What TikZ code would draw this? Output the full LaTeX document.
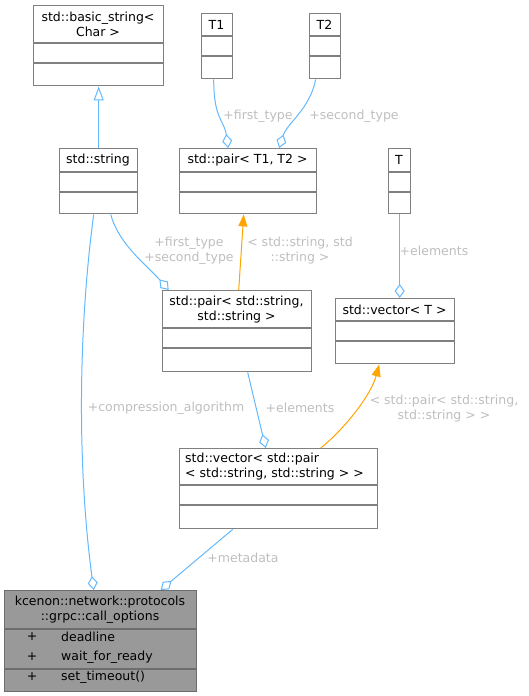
\documentclass[tikz,border=0pt]{standalone}
\usepackage{fontspec}
\setmainfont{DejaVu Sans}
\usetikzlibrary{arrows.meta}
\definecolor{boxgray}{HTML}{808080}
\definecolor{edgeblue}{HTML}{63B8FF}
\definecolor{edgeorange}{HTML}{FFA500}
\definecolor{labelgray}{HTML}{BEBEBE}
\definecolor{mainfill}{HTML}{999999}
\begin{document}
\begin{tikzpicture}[x=1pt,y=-1pt]
        \tikzstyle{cls}=[draw=boxgray,fill=white,line width=1.4pt,inner sep=0pt,anchor=north west]
        \tikzstyle{mainc}=[cls,fill=mainfill,draw=boxgray!85!black]
        \tikzstyle{ttl}=[inner sep=0pt,align=center,font=\fontsize{12.5}{15}\selectfont]
        \tikzstyle{lbl}=[ttl,text=labelgray]
        \tikzstyle{sepline}=[draw=boxgray,line width=1.4pt]
        \tikzstyle{agg}=[draw=edgeblue,line width=1pt,-{Diamond[open,length=14pt,width=10pt]}]
        \tikzstyle{inherit}=[draw=edgeblue,line width=1pt,-{Triangle[open,length=14pt,width=10pt]}]
        \tikzstyle{tmpl}=[draw=edgeorange,line width=1pt,-{Triangle[length=12pt,width=9pt]}]
    \useasboundingbox (0,0) rectangle (529,696);
    % classes
    \node[cls,minimum width=130pt,minimum height=80pt] (basicstr) at (33,5) {};
    \draw[sepline] (basicstr.north west) ++(0,38) -- ++(130,0) ++(-130,20) -- ++(130,0);
    \node[ttl] (basicstrT) at (98,24.5) {std::basic\_string<\\Char >};
    \node[cls,minimum width=31pt,minimum height=65pt] (tone) at (201,13) {};
    \draw[sepline] (tone.north west) ++(0,23) -- ++(31,0) ++(-31,20) -- ++(31,0);
    \node[ttl] (toneT) at (216.5,24.5) {T1};
    \node[cls,minimum width=31pt,minimum height=65pt] (ttwo) at (309,13) {};
    \draw[sepline] (ttwo.north west) ++(0,23) -- ++(31,0) ++(-31,20) -- ++(31,0);
    \node[ttl] (ttwoT) at (324.5,24.5) {T2};
    \node[cls,minimum width=78pt,minimum height=65pt] (str) at (59,148) {};
    \draw[sepline] (str.north west) ++(0,24) -- ++(78,0) ++(-78,20) -- ++(78,0);
    \node[ttl] (strT) at (98,160) {std::string};
    \node[cls,minimum width=137pt,minimum height=65pt] (pairT) at (179,148) {};
    \draw[sepline] (pairT.north west) ++(0,24) -- ++(137,0) ++(-137,20) -- ++(137,0);
    \node[ttl] (pairTT) at (247.5,160) {std::pair< T1, T2 >};
    \node[cls,minimum width=22pt,minimum height=65pt] (tee) at (388,148) {};
    \draw[sepline] (tee.north west) ++(0,24) -- ++(22,0) ++(-22,20) -- ++(22,0);
    \node[ttl] (teeT) at (399,160) {T};
    \node[cls,minimum width=149pt,minimum height=81pt] (pairSS) at (162,290) {};
    \draw[sepline] (pairSS.north west) ++(0,38) -- ++(149,0) ++(-149,20) -- ++(149,0);
    \node[ttl] (pairSST) at (236.5,309.5) {std::pair< std::string,\\std::string >};
    \node[cls,minimum width=119pt,minimum height=65pt] (vecT) at (335,298) {};
    \draw[sepline] (vecT.north west) ++(0,23) -- ++(119,0) ++(-119,20) -- ++(119,0);
    \node[ttl] (vecTT) at (394.5,310) {std::vector< T >};
    \node[cls,minimum width=198pt,minimum height=80pt] (vecP) at (179,448) {};
    \draw[sepline] (vecP.north west) ++(0,37) -- ++(198,0) ++(-198,20) -- ++(198,0);
    \node[ttl,align=left,anchor=west] (vecPT) at (185,466.5) {std::vector< std::pair\\< std::string, std::string > >};
    \node[mainc,minimum width=192pt,minimum height=101pt] (call) at (4,590) {};
    \draw[sepline,draw=boxgray!85!black] (call.north west) ++(0,39) -- ++(192,0) ++(-192,40) -- ++(192,0);
    \node[ttl] (callT) at (100,610) {kcenon::network::protocols\\::grpc::call\_options};
    \node[ttl] (attrA) at (32,637) {+};
    \node[ttl,anchor=west] (attrAn) at (61,637) {deadline};
    \node[ttl] (attrB) at (32,657) {+};
    \node[ttl,anchor=west] (attrBn) at (61,657) {wait\_for\_ready};
    \node[ttl] (methA) at (32,677) {+};
    \node[ttl,anchor=west] (methAn) at (61,677) {set\_timeout()};
    % relations
    \draw[inherit] (str.north) -- (basicstr.south);
    \draw[agg] ([xshift=-3.5pt]tone.south) .. controls +(0,40) and +(-4,-28) .. ([xshift=-20pt]pairT.north);
    \draw[agg] ([xshift=-9.5pt]ttwo.south) .. controls +(-6,30) and +(8,-25) .. ([xshift=31pt]pairT.north);
    \draw[tmpl] ([xshift=1.5pt]pairSS.north) -- ([xshift=-4.5pt]pairT.south);
    \draw[agg] ([xshift=12pt]str.south) .. controls +(8,30) and +(-22,-25) .. ([xshift=-68.5pt]pairSS.north);
    \draw[agg] ([xshift=-5pt]str.south) .. controls +(-16,120) and +(-16,-120) .. ([xshift=-7pt]call.north);
    \draw[agg] (tee.south) -- ([xshift=4.5pt]vecT.north);
    \draw[agg] ([xshift=10.5pt]pairSS.south) -- ([xshift=-13pt]vecP.north);
    \draw[tmpl] ([xshift=42pt]vecP.north) .. controls +(25,-20) and +(-8,30) .. ([xshift=-16pt]vecT.south);
    \draw[agg] ([xshift=-46pt]vecP.south) -- ([xshift=60pt]call.north);
    % labels
    \node[lbl] (lblFirst) at (258,116) {+first\_type};
    \node[lbl] (lblSecond) at (354,116) {+second\_type};
    \node[lbl] (lblStrStr) at (300,250.5) {< std::string, std\\::string >};
    \node[lbl] (lblBoth) at (189,250.5) {+first\_type\\+second\_type};
    \node[lbl] (lblElemT) at (434,251) {+elements};
    \node[lbl] (lblComp) at (166,408) {+compression\_algorithm};
    \node[lbl] (lblElemP) at (300,408) {+elements};
    \node[lbl] (lblPair) at (444,408.5) {< std::pair< std::string,\\std::string > >};
    \node[lbl] (lblMeta) at (243,558) {+metadata};
\end{tikzpicture}
\end{document}
